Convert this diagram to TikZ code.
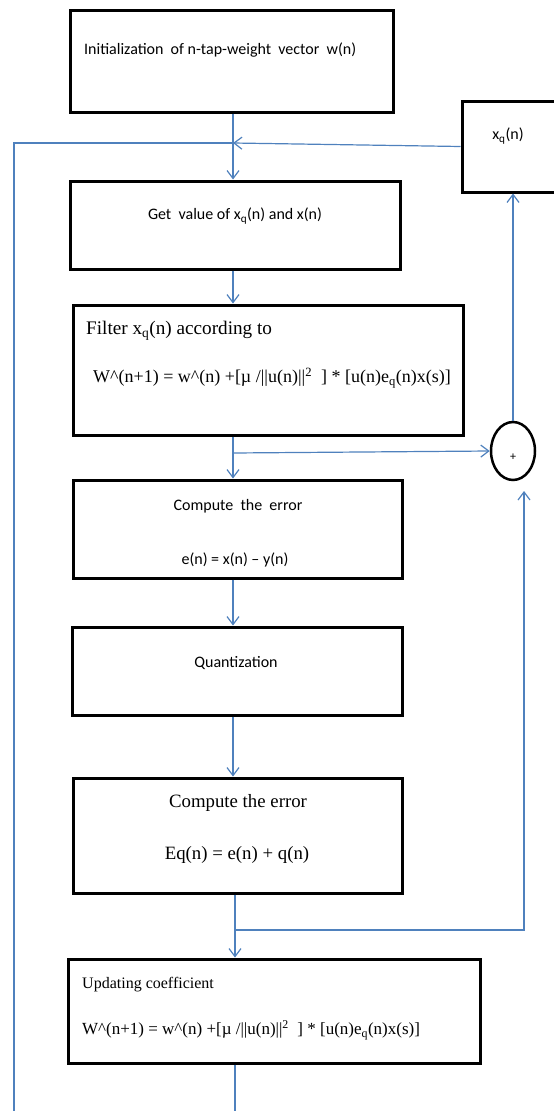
\documentclass[tikz,border=0pt]{standalone}
\usepackage{fontspec}
\setmainfont{Carlito}
\newfontfamily\serifface{Liberation Serif}
\usetikzlibrary{arrows.meta,shapes.geometric}
\definecolor{lineblue}{RGB}{79,129,189}
\begin{document}
\begin{tikzpicture}[x=1pt,y=-1pt,
  box/.style={draw=black, line width=3pt, inner sep=0pt},
  conn/.style={draw=lineblue, line width=1.2pt},
  arr/.style={conn, -{Straight Barb[length=8pt,width=12pt]}},
  cal/.style={font=\fontsize{16}{19}\selectfont, inner sep=0pt},
  ser/.style={font=\serifface\fontsize{18.8}{22}\selectfont, inner sep=0pt}]
\useasboundingbox (0,0) rectangle (554,1111);
% boxes
\node[box, minimum width=323pt, minimum height=102pt] (b1) at (231.5,61) {};
\node[box, minimum width=98pt, minimum height=91pt] (xq) at (511,146.5) {};
\node[box, minimum width=330pt, minimum height=88pt] (b2) at (235,225) {};
\node[box, minimum width=390pt, minimum height=130pt] (b3) at (268,370) {};
\node[draw=black, line width=2.5pt, ellipse, minimum width=44pt, minimum height=58pt, inner sep=0pt] (circ) at (513,451) {};
\node[box, minimum width=329pt, minimum height=98pt] (b4) at (237.5,529) {};
\node[box, minimum width=330pt, minimum height=88pt] (b5) at (237,671) {};
\node[box, minimum width=329pt, minimum height=115pt] (b6) at (237.5,835.5) {};
\node[box, minimum width=412pt, minimum height=104pt] (b7) at (274,1011) {};
% texts
\node[cal, anchor=west] (t1) at (84,50) {Initialization\ \ of n-tap-weight\ \ vector\ \ w(n)};
\node[cal] (txq) at (508,136) {x\textsubscript{q}(n)};
\node[cal] (t2) at (235,216) {Get\ \ value of x\textsubscript{q}(n) and x(n)};
\node[ser, anchor=west, font=\serifface\fontsize{19.2}{22}\selectfont] (t3a) at (86,331) {Filter x\textsubscript{q}(n) according to};
\node[ser, anchor=west, font=\serifface\fontsize{18}{21}\selectfont] (t3b) at (93,378) {W\^{}(n+1) = w\^{}(n) +[µ /||u(n)||\textsuperscript{2}\ \ ] * [u(n)e\textsubscript{q}(n)x(s)]};
\node[font=\fontsize{12}{14}\selectfont, inner sep=0pt] (tplus) at (513,457) {+};
\node[cal] (t4a) at (238,506) {Compute\ \ the\ \ error};
\node[cal] (t4b) at (235,560) {e(n) = x(n) -- y(n)};
\node[cal] (t5) at (236,663) {Quantization};
\node[ser] (t6a) at (238,803) {Compute the error};
\node[ser] (t6b) at (237,855) {Eq(n) = e(n) + q(n)};
\node[ser, anchor=west, font=\serifface\fontsize{16}{19}\selectfont] (t7a) at (82,985) {Updating coefficient};
\node[ser, anchor=west, font=\serifface\fontsize{17}{20}\selectfont] (t7b) at (82,1030) {W\^{}(n+1) = w\^{}(n) +[µ /||u(n)||\textsuperscript{2}\ \ ] * [u(n)e\textsubscript{q}(n)x(s)]};
% connector coordinates
\coordinate (colA) at (233,0);
\coordinate (colB) at (235,0);
\coordinate (m1) at (233,143);
\coordinate (j1) at (233,453);
\coordinate (j2) at (235,930);
\coordinate (cin) at (524,491);
\coordinate (bl) at (14,1111);
\coordinate (bc) at (235,1111);
% connectors
\draw[arr] (b1.south -| colA) -- (b2.north -| colA);
\draw[arr] (xq.west) -- (m1);
\draw[conn] (bl) |- (m1);
\draw[arr] (b2.south -| colA) -- (b3.north -| colA);
\draw[arr] (b3.south -| colA) -- (b4.north -| colA);
\draw[arr] (j1) -- (circ.west);
\draw[arr] (circ.north) -- (circ.north |- xq.south);
\draw[arr] (b4.south -| colA) -- (b5.north -| colA);
\draw[arr] (b5.south -| colA) -- (b6.north -| colA);
\draw[arr] (b6.south -| colB) -- (b7.north -| colB);
\draw[arr] (j2) -| (cin);
\draw[conn] (b7.south -| colB) -- (bc);
\end{tikzpicture}
\end{document}
